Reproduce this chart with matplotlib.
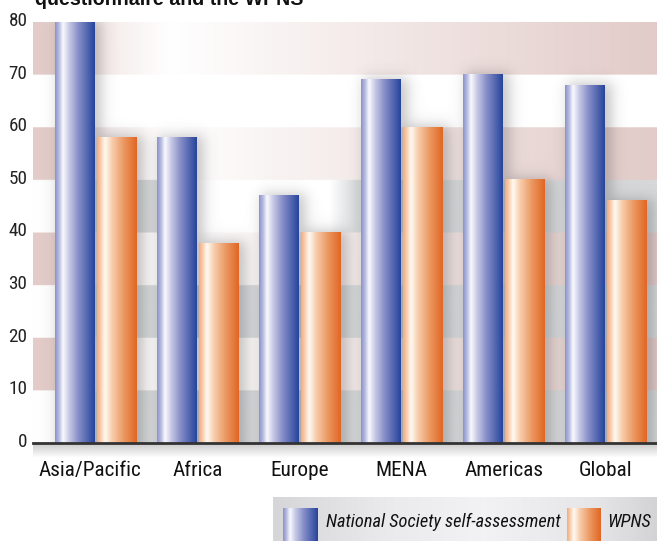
import numpy as np
import matplotlib
matplotlib.use('Agg')
import matplotlib.pyplot as plt
from matplotlib.colors import LinearSegmentedColormap
import matplotlib.transforms as mtransforms
from matplotlib import font_manager as fm

# ---------------- data ----------------
categories = ['Asia/Pacific', 'Africa', 'Europe', 'MENA', 'Americas', 'Global']
ns_self = [80, 58, 47, 69, 70, 68]
wpns = [58, 38, 40, 60, 50, 46]
yticks = [0, 10, 20, 30, 40, 50, 60, 70, 80]
series_names = ['National Society self-assessment', 'WPNS']
title = 'questionnaire and the WPNS'

# ---------------- fonts: prefer a narrow/condensed face ----------------
def pick_font(want_bold=False, want_italic=False):
    best = None
    for f in fm.fontManager.ttflist:
        fn = f.fname.lower()
        nm = f.name.lower()
        narrow = ('narrow' in fn or 'condensed' in fn or 'narrow' in nm or 'condensed' in nm
                  or str(f.stretch) in ('condensed', 'semi-condensed', 'extra-condensed'))
        if not narrow:
            continue
        pen = 1 if ('extra' in fn or 'ultra' in fn or 'semi' in fn) else 0
        w = f.weight if isinstance(f.weight, int) else (700 if 'bold' in str(f.weight) else 400)
        bold = w >= 600
        ital = f.style in ('italic', 'oblique')
        score = pen + (0 if bold == want_bold else 5) + (0 if ital == want_italic else 5)
        if 'light' in fn or 'thin' in fn or 'black' in fn or 'medium' in fn:
            score += 2
        if 'liberation' in fn:
            score -= 0.5
        elif 'roboto' in fn:
            score -= 0.3
        if best is None or score < best[0]:
            best = (score, f.fname)
    if best is None or best[0] >= 5:
        return fm.FontProperties(family='DejaVu Sans',
                                 weight='bold' if want_bold else 'normal',
                                 style='italic' if want_italic else 'normal')
    return fm.FontProperties(fname=best[1])

fp_reg = pick_font()
fp_ital = pick_font(want_italic=True)
fp_title = fm.FontProperties(family=['Liberation Sans', 'DejaVu Sans'], weight='bold')

W, H = 657, 541
fig = plt.figure(figsize=(W / 100, H / 100), dpi=100)
fig.patch.set_facecolor('white')
renderer = fig.canvas.get_renderer()

def fit_size(text, fp, target_w, max_size):
    t = fig.text(0, 0, text, fontproperties=fp, fontsize=20)
    w = t.get_window_extent(renderer=renderer).width
    t.remove()
    return min(max_size, 20 * target_w / w)

blue_cmap = LinearSegmentedColormap.from_list('blue', [
    (0.0, (0.55, 0.57, 0.79)), (0.10, (0.72, 0.74, 0.88)), (0.2, (0.98, 0.98, 1.0)),
    (0.35, (0.78, 0.79, 0.90)), (0.6, (0.52, 0.55, 0.78)), (1.0, (0.15, 0.27, 0.61))])
orange_cmap = LinearSegmentedColormap.from_list('orange', [
    (0.0, (0.95, 0.67, 0.51)), (0.10, (0.98, 0.82, 0.70)), (0.2, (1.0, 0.98, 0.95)),
    (0.38, (0.97, 0.80, 0.67)), (0.7, (0.92, 0.58, 0.36)), (1.0, (0.88, 0.40, 0.14))])

ax_l, ax_r, ax_t, ax_b = 33, 657, 22, 443
ax = fig.add_axes([ax_l / W, 1 - ax_b / H, (ax_r - ax_l) / W, (ax_b - ax_t) / H])
xmin, xmax = -0.612, 5.499
ymin, ymax = 0, 80

px_x = (xmax - xmin) / (ax_r - ax_l)
px_y = (ymax - ymin) / (ax_b - ax_t)

# ---------------- background bands ----------------
nx = ax_r - ax_l
ny = 800
xs_px = np.arange(nx) + 0.5 + ax_l
ys = (np.arange(ny) + 0.5) / ny * (ymax - ymin)
pink = np.array([226, 203, 200]) / 255
grey = np.array([214, 216, 218]) / 255
white = np.ones(3)
t_pink = np.interp(xs_px, [33, 55, 94, 170, 657], [1, 0.95, 0.45, 0, 1])
t_grey = np.interp(xs_px, [33, 55, 100, 136, 657], [0, 0.05, 0.8, 1, 1])
bump = np.interp(xs_px, [160, 190, 330, 356], [0, 1, 1, 0])
img = np.ones((ny, nx, 3))
for j, y in enumerate(ys):
    band = int(y // 10)
    if band % 2 == 1:
        t, c = t_pink, pink
    elif band == 6:
        t, c = np.zeros(nx), grey
    elif band == 4:
        t, c = t_grey * (1 - bump), grey
    else:
        t, c = t_grey, grey
    img[j] = white * (1 - t[:, None]) + c * t[:, None]
ax.imshow(img, extent=(xmin, xmax, ymin, ymax), origin='lower', aspect='auto',
          interpolation='bilinear', zorder=0)

# ---------------- bars ----------------
n = len(categories)
centers = np.arange(n)
bw = 0.387
off = 0.206
bars = []
for i in range(n):
    bars.append((centers[i] - off - bw / 2, centers[i] - off + bw / 2, ns_self[i], blue_cmap))
    bars.append((centers[i] + off - bw / 2, centers[i] + off + bw / 2, wpns[i], orange_cmap))

# soft shadows behind bars
ny2 = 842
Ypx = (np.arange(ny2) + 0.5) / ny2 * (ax_b - ax_t)
XX, YY = np.meshgrid(xs_px, Ypx)
keep = np.ones_like(XX)
s = 4.0
def S(u):
    return 1.0 / (1.0 + np.exp(-u))
for (x0, x1, h, cm) in bars:
    bx0 = ax_l + (x0 - xmin) / px_x
    bx1 = ax_l + (x1 - xmin) / px_x
    hp = h / px_y
    a = 0.30 * S((XX - (bx0 + 3)) / s) * S(((bx1 + 7) - XX) / s) * S(((hp + 2) - YY) / s)
    keep *= (1 - a)
sh = np.zeros((ny2, nx, 4))
sh[..., :3] = 0.25
sh[..., 3] = 1 - keep
ax.imshow(sh, extent=(xmin, xmax, ymin, ymax), origin='lower', aspect='auto',
          interpolation='bilinear', zorder=1)

grad = np.linspace(0, 1, 128)[None, :]
for (x0, x1, h, cm) in bars:
    ax.imshow(grad, cmap=cm, extent=(x0, x1, 0, h), aspect='auto',
              interpolation='bilinear', zorder=3)

ax.set_xlim(xmin, xmax)
ax.set_ylim(ymin, ymax)

# ---------------- axes styling ----------------
for sp in ['top', 'left', 'right']:
    ax.spines[sp].set_visible(False)
ax.spines['bottom'].set_color('#333333')
ax.spines['bottom'].set_linewidth(2)
ax.spines['bottom'].set_zorder(5)

ysize = fit_size('80', fp_reg, 19, 14)
xsize = fit_size('Asia/Pacific', fp_reg, 103, 17)
ax.set_yticks(yticks)
ax.set_yticklabels([str(v) for v in yticks], fontproperties=fp_reg, fontsize=ysize, color='#222222')
ax.set_xticks(centers)
ax.set_xticklabels(categories, fontproperties=fp_reg, fontsize=xsize, color='#111111')
ax.tick_params(axis='both', length=0)
ax.tick_params(axis='y', pad=4)
ax.tick_params(axis='x', pad=13)
for lbl in ax.get_yticklabels():
    lbl.set_transform(lbl.get_transform() + mtransforms.ScaledTranslation(0, 3 / 100, fig.dpi_scale_trans))
xl = ax.get_xticklabels()[0]
xl.set_transform(xl.get_transform() + mtransforms.ScaledTranslation(-6 / 100, 0, fig.dpi_scale_trans))

# shadow below axis line
sax = fig.add_axes([ax_l / W, 1 - 458 / H, (ax_r - ax_l) / W, 14 / H], zorder=-1)
sg = np.zeros((32, 8, 4))
sg[..., :3] = 0.3
sg[..., 3] = np.linspace(0.28, 0, 32)[:, None]
sax.imshow(sg, aspect='auto', extent=(0, 1, 0, 1), origin='upper', interpolation='bilinear')
sax.set_axis_off()

# ---------------- title (cut off at top) ----------------
tsize = fit_size(title, fp_title, 269, 18)
fig.text(35 / W, 1 - 5 / H, title, fontproperties=fp_title,
         fontsize=tsize, va='baseline', ha='left', color='#111111')

# ---------------- legend ----------------
lax = fig.add_axes([273 / W, 0, (W - 273) / W, 44 / H])
lg = LinearSegmentedColormap.from_list('lg', [
    (0.0, (0.84, 0.84, 0.85)), (0.3, (0.92, 0.92, 0.93)), (0.55, (0.95, 0.95, 0.96)),
    (0.85, (0.90, 0.90, 0.91)), (1.0, (0.83, 0.83, 0.84))])
lax.imshow(grad, cmap=lg, extent=(273, 657, 541, 497), aspect='auto', interpolation='bilinear')
lax.imshow(grad, cmap=blue_cmap, extent=(283, 318, 541, 508), aspect='auto', interpolation='bilinear')
lax.imshow(grad, cmap=orange_cmap, extent=(567, 601, 541, 508), aspect='auto', interpolation='bilinear')
lsize = fit_size(series_names[0], fp_ital, 234, 14)
lax.text(326, 527, series_names[0], fontproperties=fp_ital, fontsize=lsize,
         va='baseline', ha='left', color='#111111')
lax.text(607, 527, series_names[1], fontproperties=fp_ital, fontsize=lsize,
         va='baseline', ha='left', color='#111111')
lax.set_xlim(273, 657)
lax.set_ylim(541, 497)
lax.set_axis_off()

fig.savefig('out.png', dpi=100)
